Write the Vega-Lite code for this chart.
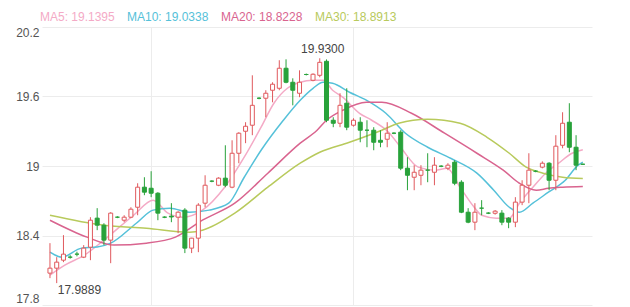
{
  "$schema": "https://vega.github.io/schema/vega-lite/v6.json",
  "width": 550,
  "height": 278,
  "autosize": {"type": "none"},
  "padding": {"left": 42, "top": 27, "right": 38, "bottom": 2},
  "background": "#ffffff",
  "config": {
    "view": {"stroke": null},
    "font": "Liberation Sans",
    "axis": {"gridColor": "#ececec", "gridWidth": 1}
  },
  "datasets": {
    "k": [
      {"i":1,"o":18.075,"h":18.334,"l":18.032,"c":18.118},
      {"i":2,"o":18.118,"h":18.213,"l":17.9889,"c":18.170},
      {"i":3,"o":18.187,"h":18.403,"l":18.170,"c":18.239},
      {"i":4,"o":18.213,"h":18.23,"l":18.20,"c":18.213},
      {"i":5,"o":18.239,"h":18.26,"l":18.22,"c":18.239},
      {"i":6,"o":18.213,"h":18.317,"l":18.205,"c":18.291},
      {"i":7,"o":18.299,"h":18.558,"l":18.187,"c":18.532},
      {"i":8,"o":18.550,"h":18.636,"l":18.446,"c":18.489},
      {"i":9,"o":18.489,"h":18.506,"l":18.317,"c":18.360},
      {"i":10,"o":18.360,"h":18.601,"l":18.161,"c":18.593},
      {"i":11,"o":18.558,"h":18.566,"l":18.55,"c":18.558},
      {"i":12,"o":18.532,"h":18.575,"l":18.515,"c":18.558},
      {"i":13,"o":18.558,"h":18.644,"l":18.550,"c":18.627},
      {"i":14,"o":18.644,"h":18.851,"l":18.575,"c":18.817},
      {"i":15,"o":18.817,"h":18.903,"l":18.748,"c":18.774},
      {"i":16,"o":18.808,"h":18.955,"l":18.731,"c":18.765},
      {"i":17,"o":18.765,"h":18.774,"l":18.532,"c":18.593},
      {"i":18,"o":18.558,"h":18.566,"l":18.55,"c":18.558},
      {"i":19,"o":18.567,"h":18.679,"l":18.515,"c":18.560},
      {"i":20,"o":18.558,"h":18.610,"l":18.420,"c":18.601},
      {"i":21,"o":18.619,"h":18.636,"l":18.248,"c":18.291},
      {"i":22,"o":18.291,"h":18.380,"l":18.248,"c":18.377},
      {"i":23,"o":18.377,"h":18.679,"l":18.256,"c":18.662},
      {"i":24,"o":18.679,"h":18.920,"l":18.644,"c":18.834},
      {"i":25,"o":18.869,"h":18.877,"l":18.86,"c":18.869},
      {"i":26,"o":18.834,"h":18.903,"l":18.826,"c":18.895},
      {"i":27,"o":18.895,"h":19.179,"l":18.817,"c":18.834},
      {"i":28,"o":18.817,"h":19.222,"l":18.808,"c":19.110},
      {"i":29,"o":19.110,"h":19.292,"l":19.024,"c":19.283},
      {"i":30,"o":19.300,"h":19.378,"l":19.197,"c":19.343},
      {"i":31,"o":19.352,"h":19.783,"l":19.266,"c":19.524},
      {"i":32,"o":19.585,"h":19.594,"l":19.576,"c":19.585},
      {"i":33,"o":19.585,"h":19.654,"l":19.421,"c":19.628},
      {"i":34,"o":19.654,"h":19.723,"l":19.550,"c":19.706},
      {"i":35,"o":19.671,"h":19.913,"l":19.654,"c":19.844},
      {"i":36,"o":19.844,"h":19.921,"l":19.714,"c":19.723},
      {"i":37,"o":19.723,"h":19.757,"l":19.524,"c":19.654},
      {"i":38,"o":19.628,"h":19.826,"l":19.594,"c":19.723},
      {"i":39,"o":19.790,"h":19.798,"l":19.782,"c":19.790},
      {"i":40,"o":19.740,"h":19.800,"l":19.731,"c":19.792},
      {"i":41,"o":19.783,"h":19.930,"l":19.766,"c":19.895},
      {"i":42,"o":19.904,"h":19.920,"l":19.378,"c":19.395},
      {"i":43,"o":19.395,"h":19.421,"l":19.335,"c":19.369},
      {"i":44,"o":19.369,"h":19.628,"l":19.335,"c":19.524},
      {"i":45,"o":19.542,"h":19.671,"l":19.309,"c":19.335},
      {"i":46,"o":19.352,"h":19.412,"l":19.340,"c":19.395},
      {"i":47,"o":19.378,"h":19.421,"l":19.205,"c":19.309},
      {"i":48,"o":19.309,"h":19.395,"l":19.162,"c":19.309},
      {"i":49,"o":19.309,"h":19.335,"l":19.136,"c":19.205},
      {"i":50,"o":19.222,"h":19.309,"l":19.162,"c":19.205},
      {"i":51,"o":19.231,"h":19.378,"l":19.162,"c":19.283},
      {"i":52,"o":19.283,"h":19.292,"l":19.275,"c":19.283},
      {"i":53,"o":19.292,"h":19.309,"l":18.964,"c":18.981},
      {"i":54,"o":18.981,"h":19.076,"l":18.791,"c":18.920},
      {"i":55,"o":18.903,"h":19.007,"l":18.791,"c":18.946},
      {"i":56,"o":18.920,"h":19.007,"l":18.834,"c":18.964},
      {"i":57,"o":18.964,"h":19.110,"l":18.860,"c":18.964},
      {"i":58,"o":18.946,"h":19.076,"l":18.834,"c":19.007},
      {"i":59,"o":18.998,"h":19.007,"l":18.990,"c":18.998},
      {"i":60,"o":18.981,"h":19.024,"l":18.964,"c":19.007},
      {"i":61,"o":19.033,"h":19.050,"l":18.834,"c":18.851},
      {"i":62,"o":18.860,"h":18.877,"l":18.593,"c":18.601},
      {"i":63,"o":18.601,"h":18.636,"l":18.506,"c":18.515},
      {"i":64,"o":18.515,"h":18.679,"l":18.446,"c":18.601},
      {"i":65,"o":18.636,"h":18.705,"l":18.575,"c":18.636},
      {"i":66,"o":18.593,"h":18.601,"l":18.585,"c":18.593},
      {"i":67,"o":18.592,"h":18.620,"l":18.580,"c":18.610},
      {"i":68,"o":18.593,"h":18.619,"l":18.489,"c":18.515},
      {"i":69,"o":18.550,"h":18.558,"l":18.463,"c":18.515},
      {"i":70,"o":18.515,"h":18.731,"l":18.472,"c":18.688},
      {"i":71,"o":18.688,"h":18.877,"l":18.662,"c":18.834},
      {"i":72,"o":18.834,"h":19.110,"l":18.679,"c":18.964},
      {"i":73,"o":18.955,"h":18.964,"l":18.946,"c":18.955},
      {"i":74,"o":18.990,"h":19.040,"l":18.980,"c":19.024},
      {"i":75,"o":19.024,"h":19.033,"l":18.791,"c":18.877},
      {"i":76,"o":18.877,"h":19.266,"l":18.791,"c":19.171},
      {"i":77,"o":19.179,"h":19.464,"l":19.153,"c":19.369},
      {"i":78,"o":19.378,"h":19.542,"l":19.119,"c":19.162},
      {"i":79,"o":19.162,"h":19.266,"l":18.964,"c":19.007},
      {"i":80,"o":19.015,"h":19.020,"l":19.010,"c":19.015}
    ],
    "ma": [
      {"s":"MA5: 19.1395","i":1,"v":18.058},
      {"s":"MA5: 19.1395","i":3.2,"v":18.144},
      {"s":"MA5: 19.1395","i":6.1,"v":18.23},
      {"s":"MA5: 19.1395","i":9,"v":18.36},
      {"s":"MA5: 19.1395","i":13.4,"v":18.575},
      {"s":"MA5: 19.1395","i":16.3,"v":18.705},
      {"s":"MA5: 19.1395","i":18.5,"v":18.593},
      {"s":"MA5: 19.1395","i":20.7,"v":18.558},
      {"s":"MA5: 19.1395","i":23.6,"v":18.619},
      {"s":"MA5: 19.1395","i":26.9,"v":18.817},
      {"s":"MA5: 19.1395","i":29.8,"v":19.076},
      {"s":"MA5: 19.1395","i":32.3,"v":19.335},
      {"s":"MA5: 19.1395","i":34.2,"v":19.542},
      {"s":"MA5: 19.1395","i":36.2,"v":19.671},
      {"s":"MA5: 19.1395","i":38.1,"v":19.723},
      {"s":"MA5: 19.1395","i":40,"v":19.74},
      {"s":"MA5: 19.1395","i":41.5,"v":19.74},
      {"s":"MA5: 19.1395","i":42.9,"v":19.654},
      {"s":"MA5: 19.1395","i":44.4,"v":19.594},
      {"s":"MA5: 19.1395","i":46.9,"v":19.455},
      {"s":"MA5: 19.1395","i":48.7,"v":19.395},
      {"s":"MA5: 19.1395","i":51.2,"v":19.292},
      {"s":"MA5: 19.1395","i":53.1,"v":19.153},
      {"s":"MA5: 19.1395","i":55.6,"v":18.99},
      {"s":"MA5: 19.1395","i":58.1,"v":18.964},
      {"s":"MA5: 19.1395","i":59.9,"v":18.981},
      {"s":"MA5: 19.1395","i":61.8,"v":18.817},
      {"s":"MA5: 19.1395","i":63.9,"v":18.644},
      {"s":"MA5: 19.1395","i":65,"v":18.575},
      {"s":"MA5: 19.1395","i":67.2,"v":18.55},
      {"s":"MA5: 19.1395","i":69.1,"v":18.55},
      {"s":"MA5: 19.1395","i":70.6,"v":18.679},
      {"s":"MA5: 19.1395","i":72.6,"v":18.817},
      {"s":"MA5: 19.1395","i":74.5,"v":18.938},
      {"s":"MA5: 19.1395","i":76.4,"v":19.024},
      {"s":"MA5: 19.1395","i":78.4,"v":19.11},
      {"s":"MA5: 19.1395","i":80,"v":19.1395},
      {"s":"MA10: 19.0338","i":1,"v":18.256},
      {"s":"MA10: 19.0338","i":2.75,"v":18.213},
      {"s":"MA10: 19.0338","i":5.7,"v":18.291},
      {"s":"MA10: 19.0338","i":8,"v":18.30},
      {"s":"MA10: 19.0338","i":10,"v":18.334},
      {"s":"MA10: 19.0338","i":13.8,"v":18.506},
      {"s":"MA10: 19.0338","i":16.3,"v":18.619},
      {"s":"MA10: 19.0338","i":18.8,"v":18.636},
      {"s":"MA10: 19.0338","i":21.7,"v":18.601},
      {"s":"MA10: 19.0338","i":24.6,"v":18.619},
      {"s":"MA10: 19.0338","i":27.5,"v":18.679},
      {"s":"MA10: 19.0338","i":29.8,"v":18.903},
      {"s":"MA10: 19.0338","i":32.3,"v":19.136},
      {"s":"MA10: 19.0338","i":35.6,"v":19.395},
      {"s":"MA10: 19.0338","i":38.1,"v":19.568},
      {"s":"MA10: 19.0338","i":40,"v":19.671},
      {"s":"MA10: 19.0338","i":41.5,"v":19.723},
      {"s":"MA10: 19.0338","i":42.9,"v":19.714},
      {"s":"MA10: 19.0338","i":45.4,"v":19.637},
      {"s":"MA10: 19.0338","i":47.9,"v":19.568},
      {"s":"MA10: 19.0338","i":50.8,"v":19.455},
      {"s":"MA10: 19.0338","i":53.7,"v":19.283},
      {"s":"MA10: 19.0338","i":57,"v":19.162},
      {"s":"MA10: 19.0338","i":60.4,"v":19.067},
      {"s":"MA10: 19.0338","i":64.3,"v":18.938},
      {"s":"MA10: 19.0338","i":66.8,"v":18.791},
      {"s":"MA10: 19.0338","i":69.1,"v":18.644},
      {"s":"MA10: 19.0338","i":70.6,"v":18.601},
      {"s":"MA10: 19.0338","i":72.6,"v":18.679},
      {"s":"MA10: 19.0338","i":74.9,"v":18.774},
      {"s":"MA10: 19.0338","i":77.4,"v":18.877},
      {"s":"MA10: 19.0338","i":79.3,"v":19.007},
      {"s":"MA10: 19.0338","i":80,"v":19.0338},
      {"s":"MA20: 18.8228","i":1,"v":18.532},
      {"s":"MA20: 18.8228","i":6.5,"v":18.386},
      {"s":"MA20: 18.8228","i":10.5,"v":18.317},
      {"s":"MA20: 18.8228","i":15.3,"v":18.334},
      {"s":"MA20: 18.8228","i":19.6,"v":18.386},
      {"s":"MA20: 18.8228","i":23.6,"v":18.532},
      {"s":"MA20: 18.8228","i":28.4,"v":18.679},
      {"s":"MA20: 18.8228","i":33.3,"v":18.938},
      {"s":"MA20: 18.8228","i":38.1,"v":19.197},
      {"s":"MA20: 18.8228","i":40.6,"v":19.309},
      {"s":"MA20: 18.8228","i":42,"v":19.395},
      {"s":"MA20: 18.8228","i":44.4,"v":19.481},
      {"s":"MA20: 18.8228","i":47.9,"v":19.55},
      {"s":"MA20: 18.8228","i":50.2,"v":19.55},
      {"s":"MA20: 18.8228","i":54.6,"v":19.455},
      {"s":"MA20: 18.8228","i":59.5,"v":19.283},
      {"s":"MA20: 18.8228","i":64.3,"v":19.11},
      {"s":"MA20: 18.8228","i":68.2,"v":18.964},
      {"s":"MA20: 18.8228","i":70.6,"v":18.851},
      {"s":"MA20: 18.8228","i":73.1,"v":18.791},
      {"s":"MA20: 18.8228","i":74.9,"v":18.808},
      {"s":"MA20: 18.8228","i":77,"v":18.817},
      {"s":"MA20: 18.8228","i":80,"v":18.8228},
      {"s":"MA30: 18.8913","i":1,"v":18.575},
      {"s":"MA30: 18.8913","i":9,"v":18.489},
      {"s":"MA30: 18.8913","i":15.3,"v":18.463},
      {"s":"MA30: 18.8913","i":21.7,"v":18.429},
      {"s":"MA30: 18.8913","i":23.6,"v":18.446},
      {"s":"MA30: 18.8913","i":28.4,"v":18.593},
      {"s":"MA30: 18.8913","i":33.3,"v":18.817},
      {"s":"MA30: 18.8913","i":38.1,"v":19.024},
      {"s":"MA30: 18.8913","i":41,"v":19.119},
      {"s":"MA30: 18.8913","i":45.4,"v":19.205},
      {"s":"MA30: 18.8913","i":50.2,"v":19.309},
      {"s":"MA30: 18.8913","i":52.7,"v":19.369},
      {"s":"MA30: 18.8913","i":57,"v":19.404},
      {"s":"MA30: 18.8913","i":61.8,"v":19.369},
      {"s":"MA30: 18.8913","i":65.8,"v":19.248},
      {"s":"MA30: 18.8913","i":69.1,"v":19.11},
      {"s":"MA30: 18.8913","i":71.6,"v":18.99},
      {"s":"MA30: 18.8913","i":74.1,"v":18.938},
      {"s":"MA30: 18.8913","i":77,"v":18.903},
      {"s":"MA30: 18.8913","i":80,"v":18.8913}
    ],
    "hi": [{"i":41,"v":19.93,"t":"19.9300"}],
    "lo": [{"i":2,"v":17.9889,"t":"17.9889"}]
  },
  "encoding": {
    "x": {
      "field": "i", "type": "quantitative",
      "scale": {"domain": [0.56, 80.62], "nice": false, "zero": false},
      "axis": {"values": [16, 46], "grid": true, "labels": false, "ticks": false, "domain": false, "title": null}
    }
  },
  "layer": [
    {
      "data": {"name": "ma"},
      "mark": {"type": "line", "interpolate": "monotone", "strokeWidth": 1.5},
      "encoding": {
        "y": {
          "field": "v", "type": "quantitative",
          "scale": {"domain": [17.8, 20.2], "nice": false, "zero": false},
          "axis": {"values": [17.8, 18.4, 19, 19.6, 20.2], "format": "~g", "grid": true, "ticks": false, "domain": false, "title": null, "labelFlush": true, "labelFontSize": 12, "labelColor": "#555555", "labelPadding": 3}
        },
        "color": {
          "field": "s", "type": "nominal",
          "scale": {
            "domain": ["MA5: 19.1395", "MA10: 19.0338", "MA20: 18.8228", "MA30: 18.8913"],
            "range": ["#f4aac6", "#55c1d9", "#d9648f", "#b8ca5c"]
          },
          "legend": {
            "orient": "top",
            "direction": "horizontal",
            "title": null,
            "symbolSize": 1,
            "symbolStrokeWidth": 0,
            "symbolOpacity": 0,
            "labelOffset": -14,
            "labelFontSize": 12,
            "columnPadding": 12,
            "offset": 4,
            "padding": 0,
            "encode": {"labels": {"update": {"fill": {"scale": "color", "field": "value"}}}}
          }
        }
      }
    },
    {
      "data": {"name": "k"},
      "mark": {"type": "rule", "strokeWidth": 1},
      "encoding": {
        "y": {"field": "l", "type": "quantitative"},
        "y2": {"field": "h"},
        "color": {"condition": {"test": "datum.c > datum.o", "value": "#e0595d"}, "value": "#28a23a"}
      }
    },
    {
      "data": {"name": "k"},
      "mark": {"type": "bar", "width": 4, "strokeWidth": 1},
      "encoding": {
        "y": {"field": "o", "type": "quantitative"},
        "y2": {"field": "c"},
        "fill": {"condition": {"test": "datum.c > datum.o", "value": "#ffffff"}, "value": "#28a23a"},
        "stroke": {"condition": {"test": "datum.c > datum.o", "value": "#e0595d"}, "value": "#28a23a"}
      }
    },
    {
      "data": {"name": "hi"},
      "mark": {"type": "text", "dy": -9, "dx": 3, "fontSize": 12, "color": "#444444", "align": "center"},
      "encoding": {
        "y": {"field": "v", "type": "quantitative"},
        "text": {"field": "t"}
      }
    },
    {
      "data": {"name": "lo"},
      "mark": {"type": "text", "dy": 7, "dx": 1, "fontSize": 12, "color": "#444444", "align": "left"},
      "encoding": {
        "y": {"field": "v", "type": "quantitative"},
        "text": {"field": "t"}
      }
    }
  ]
}
